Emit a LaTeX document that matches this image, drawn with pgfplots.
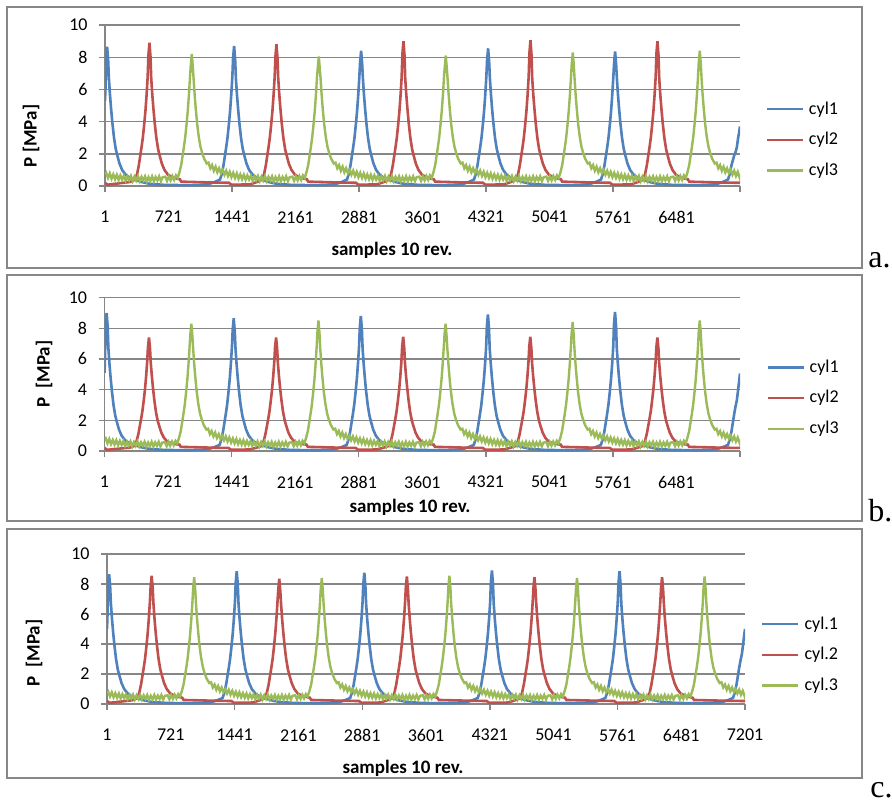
\documentclass[border=0pt]{standalone}
\usepackage{pgfplots}
\pgfplotsset{compat=1.18}
\usepackage{pgfplotstable}
\usepackage{fontspec}
\setmainfont{Carlito}
\newfontfamily\serifabc{Liberation Serif}
\definecolor{cA}{HTML}{4F81BD}
\definecolor{cB}{HTML}{C0504D}
\definecolor{cC}{HTML}{9BBB59}
\definecolor{gridc}{HTML}{868686}
\definecolor{framec}{HTML}{878787}

\pgfplotstableread{
x a b c
1 5.3 5.1 5.0
8 6.3 6.3 6.2
13 7.87 8.19 7.87
25 8.65 9.0 8.65
37 7.79 8.10 7.79
45 6.7 6.7 6.7
57 5.7 5.7 5.7
70 4.8 4.8 4.8
85 3.9 3.9 3.9
103 3.0 3.0 3.0
123 2.3 2.3 2.3
143 1.85 1.85 1.85
165 1.4 1.4 1.4
195 1.0 1.0 1.0
235 0.7 0.7 0.7
285 0.5 0.5 0.5
345 0.38 0.38 0.38
415 0.25 0.25 0.25
505 0.14 0.14 0.14
675 0.07 0.07 0.07
975 0.05 0.05 0.05
1165 0.1 0.1 0.1
1245 0.25 0.25 0.25
1305 0.4 0.4 0.4
1325 0.75 0.75 0.75
1345 1.3 1.3 1.3
1360 1.85 1.85 1.85
1375 2.4 2.4 2.4
1390 3.0 3.0 3.0
1405 3.8 3.8 3.8
1420 4.7 4.7 4.7
1433 5.7 5.7 5.7
1445 6.8 6.8 6.8
1453 7.92 7.87 8.05
1465 8.7 8.65 8.85
1477 7.83 7.79 7.97
1485 6.7 6.7 6.7
1497 5.7 5.7 5.7
1510 4.8 4.8 4.8
1525 3.9 3.9 3.9
1543 3.0 3.0 3.0
1563 2.3 2.3 2.3
1583 1.85 1.85 1.85
1605 1.4 1.4 1.4
1635 1.0 1.0 1.0
1675 0.7 0.7 0.7
1725 0.5 0.5 0.5
1785 0.38 0.38 0.38
1855 0.25 0.25 0.25
1945 0.14 0.14 0.14
2115 0.07 0.07 0.07
2415 0.05 0.05 0.05
2605 0.1 0.1 0.1
2685 0.25 0.25 0.25
2745 0.4 0.4 0.4
2765 0.75 0.75 0.75
2785 1.3 1.3 1.3
2800 1.85 1.85 1.85
2815 2.4 2.4 2.4
2830 3.0 3.0 3.0
2845 3.8 3.8 3.8
2860 4.7 4.7 4.7
2873 5.7 5.7 5.7
2885 6.8 6.8 6.8
2893 7.64 8.01 7.96
2905 8.4 8.8 8.75
2917 7.56 7.92 7.88
2925 6.7 6.7 6.7
2937 5.7 5.7 5.7
2950 4.8 4.8 4.8
2965 3.9 3.9 3.9
2983 3.0 3.0 3.0
3003 2.3 2.3 2.3
3023 1.85 1.85 1.85
3045 1.4 1.4 1.4
3075 1.0 1.0 1.0
3115 0.7 0.7 0.7
3165 0.5 0.5 0.5
3225 0.38 0.38 0.38
3295 0.25 0.25 0.25
3385 0.14 0.14 0.14
3555 0.07 0.07 0.07
3855 0.05 0.05 0.05
4045 0.1 0.1 0.1
4125 0.25 0.25 0.25
4185 0.4 0.4 0.4
4205 0.75 0.75 0.75
4225 1.3 1.3 1.3
4240 1.85 1.85 1.85
4255 2.4 2.4 2.4
4270 3.0 3.0 3.0
4285 3.8 3.8 3.8
4300 4.7 4.7 4.7
4313 5.7 5.7 5.7
4325 6.8 6.8 6.8
4333 7.78 8.10 8.10
4345 8.55 8.9 8.9
4357 7.70 8.01 8.01
4365 6.7 6.7 6.7
4377 5.7 5.7 5.7
4390 4.8 4.8 4.8
4405 3.9 3.9 3.9
4423 3.0 3.0 3.0
4443 2.3 2.3 2.3
4463 1.85 1.85 1.85
4485 1.4 1.4 1.4
4515 1.0 1.0 1.0
4555 0.7 0.7 0.7
4605 0.5 0.5 0.5
4665 0.38 0.38 0.38
4735 0.25 0.25 0.25
4825 0.14 0.14 0.14
4995 0.07 0.07 0.07
5295 0.05 0.05 0.05
5485 0.1 0.1 0.1
5565 0.25 0.25 0.25
5625 0.4 0.4 0.4
5645 0.75 0.75 0.75
5665 1.3 1.3 1.3
5680 1.85 1.85 1.85
5695 2.4 2.4 2.4
5710 3.0 3.0 3.0
5725 3.8 3.8 3.8
5740 4.7 4.7 4.7
5753 5.7 5.7 5.7
5765 6.8 6.8 6.8
5773 7.60 8.24 8.05
5785 8.35 9.05 8.85
5797 7.52 8.15 7.97
5805 6.7 6.7 6.7
5817 5.7 5.7 5.7
5830 4.8 4.8 4.8
5845 3.9 3.9 3.9
5863 3.0 3.0 3.0
5883 2.3 2.3 2.3
5903 1.85 1.85 1.85
5925 1.4 1.4 1.4
5955 1.0 1.0 1.0
5995 0.7 0.7 0.7
6045 0.5 0.5 0.5
6105 0.38 0.38 0.38
6175 0.25 0.25 0.25
6265 0.14 0.14 0.14
6435 0.07 0.07 0.07
6735 0.05 0.05 0.05
6925 0.1 0.1 0.1
7005 0.25 0.25 0.25
7065 0.4 0.4 0.4
7085 0.75 0.75 0.75
7105 1.3 1.3 1.3
7120 1.6 1.85 1.85
7135 1.9 2.4 2.4
7150 2.1 2.9 2.9
7165 2.4 3.3 3.3
7180 3.0 4.0 4.0
7190 3.3 4.5 4.5
7201 3.7 5.05 5.0
}\tabBlue

\pgfplotstableread{
x a b c
1 0.2 0.2 0.2
30 0.08 0.08 0.08
285 0.25 0.22 0.25
345 0.4 0.34 0.4
365 0.75 0.65 0.75
385 1.3 1.12 1.3
400 1.85 1.59 1.85
415 2.4 2.06 2.4
430 3.0 2.58 3.0
445 3.8 3.27 3.8
460 4.7 4.04 4.7
473 5.7 4.90 5.7
485 6.8 5.85 6.8
493 8.10 6.73 7.78
505 8.9 7.4 8.55
517 8.01 6.66 7.70
525 6.7 5.76 6.7
537 5.7 4.90 5.7
550 4.8 4.13 4.8
565 3.9 3.35 3.9
583 3.0 2.58 3.0
603 2.3 1.98 2.3
623 1.85 1.59 1.85
645 1.4 1.20 1.4
675 1.0 0.86 1.0
715 0.7 0.6 0.7
765 0.55 0.5 0.55
825 0.45 0.43 0.45
850 0.42 0.42 0.42
865 0.27 0.27 0.27
1005 0.25 0.25 0.25
1205 0.22 0.22 0.22
1405 0.2 0.2 0.2
1435 0.08 0.08 0.08
1645 0.1 0.1 0.1
1725 0.25 0.22 0.25
1785 0.4 0.34 0.4
1805 0.75 0.65 0.75
1825 1.3 1.12 1.3
1840 1.85 1.59 1.85
1855 2.4 2.06 2.4
1870 3.0 2.58 3.0
1885 3.8 3.27 3.8
1900 4.7 4.04 4.7
1913 5.7 4.90 5.7
1925 6.8 5.85 6.8
1933 8.01 6.73 7.60
1945 8.8 7.4 8.35
1957 7.92 6.66 7.52
1965 6.7 5.76 6.7
1977 5.7 4.90 5.7
1990 4.8 4.13 4.8
2005 3.9 3.35 3.9
2023 3.0 2.58 3.0
2043 2.3 1.98 2.3
2063 1.85 1.59 1.85
2085 1.4 1.20 1.4
2115 1.0 0.86 1.0
2155 0.7 0.6 0.7
2205 0.55 0.5 0.55
2265 0.45 0.43 0.45
2290 0.42 0.42 0.42
2305 0.27 0.27 0.27
2445 0.25 0.25 0.25
2645 0.22 0.22 0.22
2845 0.2 0.2 0.2
2875 0.08 0.08 0.08
3085 0.1 0.1 0.1
3165 0.25 0.22 0.25
3225 0.4 0.34 0.4
3245 0.75 0.65 0.75
3265 1.3 1.12 1.3
3280 1.85 1.59 1.85
3295 2.4 2.06 2.4
3310 3.0 2.58 3.0
3325 3.8 3.27 3.8
3340 4.7 4.04 4.7
3353 5.7 4.90 5.7
3365 6.8 5.85 6.8
3373 8.19 6.78 7.74
3385 9.0 7.45 8.5
3397 8.10 6.71 7.65
3405 6.7 5.76 6.7
3417 5.7 4.90 5.7
3430 4.8 4.13 4.8
3445 3.9 3.35 3.9
3463 3.0 2.58 3.0
3483 2.3 1.98 2.3
3503 1.85 1.59 1.85
3525 1.4 1.20 1.4
3555 1.0 0.86 1.0
3595 0.7 0.6 0.7
3645 0.55 0.5 0.55
3705 0.45 0.43 0.45
3730 0.42 0.42 0.42
3745 0.27 0.27 0.27
3885 0.25 0.25 0.25
4085 0.22 0.22 0.22
4285 0.2 0.2 0.2
4315 0.08 0.08 0.08
4525 0.1 0.1 0.1
4605 0.25 0.22 0.25
4665 0.4 0.34 0.4
4685 0.75 0.65 0.75
4705 1.3 1.12 1.3
4720 1.85 1.59 1.85
4735 2.4 2.06 2.4
4750 3.0 2.58 3.0
4765 3.8 3.27 3.8
4780 4.7 4.04 4.7
4793 5.7 4.90 5.7
4805 6.8 5.85 6.8
4813 8.24 6.78 7.69
4825 9.05 7.45 8.45
4837 8.15 6.71 7.61
4845 6.7 5.76 6.7
4857 5.7 4.90 5.7
4870 4.8 4.13 4.8
4885 3.9 3.35 3.9
4903 3.0 2.58 3.0
4923 2.3 1.98 2.3
4943 1.85 1.59 1.85
4965 1.4 1.20 1.4
4995 1.0 0.86 1.0
5035 0.7 0.6 0.7
5085 0.55 0.5 0.55
5145 0.45 0.43 0.45
5170 0.42 0.42 0.42
5185 0.27 0.27 0.27
5325 0.25 0.25 0.25
5525 0.22 0.22 0.22
5725 0.2 0.2 0.2
5755 0.08 0.08 0.08
5965 0.1 0.1 0.1
6045 0.25 0.22 0.25
6105 0.4 0.34 0.4
6125 0.75 0.65 0.75
6145 1.3 1.12 1.3
6160 1.85 1.59 1.85
6175 2.4 2.06 2.4
6190 3.0 2.58 3.0
6205 3.8 3.27 3.8
6220 4.7 4.04 4.7
6233 5.7 4.90 5.7
6245 6.8 5.85 6.8
6253 8.19 6.73 7.69
6265 9.0 7.4 8.45
6277 8.10 6.66 7.61
6285 6.7 5.76 6.7
6297 5.7 4.90 5.7
6310 4.8 4.13 4.8
6325 3.9 3.35 3.9
6343 3.0 2.58 3.0
6363 2.3 1.98 2.3
6383 1.85 1.59 1.85
6405 1.4 1.20 1.4
6435 1.0 0.86 1.0
6475 0.7 0.6 0.7
6525 0.55 0.5 0.55
6585 0.45 0.43 0.45
6610 0.42 0.42 0.42
6625 0.27 0.27 0.27
6765 0.25 0.25 0.25
6965 0.22 0.22 0.22
7201 0.2 0.2 0.2
}\tabRed

\pgfplotstableread{
x a b c
1 0.7 0.7 0.7
15 0.82 0.82 0.82
35 0.5 0.5 0.5
55 0.78 0.78 0.78
75 0.45 0.45 0.45
95 0.72 0.72 0.72
115 0.42 0.42 0.42
135 0.7 0.7 0.7
155 0.38 0.38 0.38
175 0.66 0.66 0.66
195 0.4 0.4 0.4
215 0.64 0.64 0.64
235 0.33 0.33 0.33
255 0.6 0.6 0.6
275 0.36 0.36 0.36
295 0.62 0.62 0.62
315 0.3 0.3 0.3
335 0.58 0.58 0.58
355 0.34 0.34 0.34
375 0.62 0.62 0.62
395 0.3 0.3 0.3
415 0.57 0.57 0.57
435 0.35 0.35 0.35
455 0.6 0.6 0.6
475 0.28 0.28 0.28
495 0.55 0.55 0.55
515 0.32 0.32 0.32
535 0.6 0.6 0.6
555 0.3 0.3 0.3
575 0.56 0.56 0.56
595 0.34 0.34 0.34
615 0.6 0.6 0.6
635 0.3 0.3 0.3
655 0.55 0.55 0.55
685 0.58 0.58 0.58
705 0.32 0.32 0.32
725 0.6 0.6 0.6
745 0.35 0.35 0.35
765 0.62 0.62 0.62
785 0.38 0.38 0.38
805 0.66 0.66 0.66
825 0.5 0.5 0.5
845 0.85 0.85 0.85
865 1.3 1.3 1.3
880 1.85 1.85 1.85
895 2.4 2.4 2.4
910 3.0 3.0 3.0
925 3.8 3.8 3.8
940 4.7 4.7 4.7
953 5.7 5.7 5.7
965 6.8 6.8 6.8
973 7.46 7.55 7.69
985 8.2 8.3 8.45
997 7.38 7.47 7.61
1005 6.7 6.7 6.7
1017 5.7 5.7 5.7
1030 4.8 4.8 4.8
1045 3.9 3.9 3.9
1063 3.1 3.1 3.1
1083 2.45 2.45 2.45
1103 2.05 2.05 2.05
1125 1.7 1.7 1.7
1155 1.4 1.4 1.4
1175 1.45 1.45 1.45
1195 1.1 1.1 1.1
1215 1.3 1.3 1.3
1235 0.95 0.95 0.95
1255 1.2 1.2 1.2
1275 0.85 0.85 0.85
1295 1.1 1.1 1.1
1315 0.8 0.8 0.8
1335 1.0 1.0 1.0
1355 0.7 0.7 0.7
1375 0.95 0.95 0.95
1395 0.62 0.62 0.62
1415 0.88 0.88 0.88
1435 0.55 0.55 0.55
1455 0.82 0.82 0.82
1475 0.5 0.5 0.5
1495 0.78 0.78 0.78
1515 0.45 0.45 0.45
1535 0.72 0.72 0.72
1555 0.42 0.42 0.42
1575 0.7 0.7 0.7
1595 0.38 0.38 0.38
1615 0.66 0.66 0.66
1635 0.4 0.4 0.4
1655 0.64 0.64 0.64
1675 0.33 0.33 0.33
1695 0.6 0.6 0.6
1715 0.36 0.36 0.36
1735 0.62 0.62 0.62
1755 0.3 0.3 0.3
1775 0.58 0.58 0.58
1795 0.34 0.34 0.34
1815 0.62 0.62 0.62
1835 0.3 0.3 0.3
1855 0.57 0.57 0.57
1875 0.35 0.35 0.35
1895 0.6 0.6 0.6
1915 0.28 0.28 0.28
1935 0.55 0.55 0.55
1955 0.32 0.32 0.32
1975 0.6 0.6 0.6
1995 0.3 0.3 0.3
2015 0.56 0.56 0.56
2035 0.34 0.34 0.34
2055 0.6 0.6 0.6
2075 0.3 0.3 0.3
2095 0.55 0.55 0.55
2125 0.58 0.58 0.58
2145 0.32 0.32 0.32
2165 0.6 0.6 0.6
2185 0.35 0.35 0.35
2205 0.62 0.62 0.62
2225 0.38 0.38 0.38
2245 0.66 0.66 0.66
2265 0.5 0.5 0.5
2285 0.85 0.85 0.85
2305 1.3 1.3 1.3
2320 1.85 1.85 1.85
2335 2.4 2.4 2.4
2350 3.0 3.0 3.0
2365 3.8 3.8 3.8
2380 4.7 4.7 4.7
2393 5.7 5.7 5.7
2405 6.8 6.8 6.8
2413 7.33 7.74 7.64
2425 8.05 8.5 8.4
2437 7.25 7.65 7.56
2445 6.7 6.7 6.7
2457 5.7 5.7 5.7
2470 4.8 4.8 4.8
2485 3.9 3.9 3.9
2503 3.1 3.1 3.1
2523 2.45 2.45 2.45
2543 2.05 2.05 2.05
2565 1.7 1.7 1.7
2595 1.4 1.4 1.4
2615 1.45 1.45 1.45
2635 1.1 1.1 1.1
2655 1.3 1.3 1.3
2675 0.95 0.95 0.95
2695 1.2 1.2 1.2
2715 0.85 0.85 0.85
2735 1.1 1.1 1.1
2755 0.8 0.8 0.8
2775 1.0 1.0 1.0
2795 0.7 0.7 0.7
2815 0.95 0.95 0.95
2835 0.62 0.62 0.62
2855 0.88 0.88 0.88
2875 0.55 0.55 0.55
2895 0.82 0.82 0.82
2915 0.5 0.5 0.5
2935 0.78 0.78 0.78
2955 0.45 0.45 0.45
2975 0.72 0.72 0.72
2995 0.42 0.42 0.42
3015 0.7 0.7 0.7
3035 0.38 0.38 0.38
3055 0.66 0.66 0.66
3075 0.4 0.4 0.4
3095 0.64 0.64 0.64
3115 0.33 0.33 0.33
3135 0.6 0.6 0.6
3155 0.36 0.36 0.36
3175 0.62 0.62 0.62
3195 0.3 0.3 0.3
3215 0.58 0.58 0.58
3235 0.34 0.34 0.34
3255 0.62 0.62 0.62
3275 0.3 0.3 0.3
3295 0.57 0.57 0.57
3315 0.35 0.35 0.35
3335 0.6 0.6 0.6
3355 0.28 0.28 0.28
3375 0.55 0.55 0.55
3395 0.32 0.32 0.32
3415 0.6 0.6 0.6
3435 0.3 0.3 0.3
3455 0.56 0.56 0.56
3475 0.34 0.34 0.34
3495 0.6 0.6 0.6
3515 0.3 0.3 0.3
3535 0.55 0.55 0.55
3565 0.58 0.58 0.58
3585 0.32 0.32 0.32
3605 0.6 0.6 0.6
3625 0.35 0.35 0.35
3645 0.62 0.62 0.62
3665 0.38 0.38 0.38
3685 0.66 0.66 0.66
3705 0.5 0.5 0.5
3725 0.85 0.85 0.85
3745 1.3 1.3 1.3
3760 1.85 1.85 1.85
3775 2.4 2.4 2.4
3790 3.0 3.0 3.0
3805 3.8 3.8 3.8
3820 4.7 4.7 4.7
3833 5.7 5.7 5.7
3845 6.8 6.8 6.8
3853 7.37 7.55 7.78
3865 8.1 8.3 8.55
3877 7.29 7.47 7.70
3885 6.7 6.7 6.7
3897 5.7 5.7 5.7
3910 4.8 4.8 4.8
3925 3.9 3.9 3.9
3943 3.1 3.1 3.1
3963 2.45 2.45 2.45
3983 2.05 2.05 2.05
4005 1.7 1.7 1.7
4035 1.4 1.4 1.4
4055 1.45 1.45 1.45
4075 1.1 1.1 1.1
4095 1.3 1.3 1.3
4115 0.95 0.95 0.95
4135 1.2 1.2 1.2
4155 0.85 0.85 0.85
4175 1.1 1.1 1.1
4195 0.8 0.8 0.8
4215 1.0 1.0 1.0
4235 0.7 0.7 0.7
4255 0.95 0.95 0.95
4275 0.62 0.62 0.62
4295 0.88 0.88 0.88
4315 0.55 0.55 0.55
4335 0.82 0.82 0.82
4355 0.5 0.5 0.5
4375 0.78 0.78 0.78
4395 0.45 0.45 0.45
4415 0.72 0.72 0.72
4435 0.42 0.42 0.42
4455 0.7 0.7 0.7
4475 0.38 0.38 0.38
4495 0.66 0.66 0.66
4515 0.4 0.4 0.4
4535 0.64 0.64 0.64
4555 0.33 0.33 0.33
4575 0.6 0.6 0.6
4595 0.36 0.36 0.36
4615 0.62 0.62 0.62
4635 0.3 0.3 0.3
4655 0.58 0.58 0.58
4675 0.34 0.34 0.34
4695 0.62 0.62 0.62
4715 0.3 0.3 0.3
4735 0.57 0.57 0.57
4755 0.35 0.35 0.35
4775 0.6 0.6 0.6
4795 0.28 0.28 0.28
4815 0.55 0.55 0.55
4835 0.32 0.32 0.32
4855 0.6 0.6 0.6
4875 0.3 0.3 0.3
4895 0.56 0.56 0.56
4915 0.34 0.34 0.34
4935 0.6 0.6 0.6
4955 0.3 0.3 0.3
4975 0.55 0.55 0.55
5005 0.58 0.58 0.58
5025 0.32 0.32 0.32
5045 0.6 0.6 0.6
5065 0.35 0.35 0.35
5085 0.62 0.62 0.62
5105 0.38 0.38 0.38
5125 0.66 0.66 0.66
5145 0.5 0.5 0.5
5165 0.85 0.85 0.85
5185 1.3 1.3 1.3
5200 1.85 1.85 1.85
5215 2.4 2.4 2.4
5230 3.0 3.0 3.0
5245 3.8 3.8 3.8
5260 4.7 4.7 4.7
5273 5.7 5.7 5.7
5285 6.8 6.8 6.8
5293 7.55 7.64 7.64
5305 8.3 8.4 8.4
5317 7.47 7.56 7.56
5325 6.7 6.7 6.7
5337 5.7 5.7 5.7
5350 4.8 4.8 4.8
5365 3.9 3.9 3.9
5383 3.1 3.1 3.1
5403 2.45 2.45 2.45
5423 2.05 2.05 2.05
5445 1.7 1.7 1.7
5475 1.4 1.4 1.4
5495 1.45 1.45 1.45
5515 1.1 1.1 1.1
5535 1.3 1.3 1.3
5555 0.95 0.95 0.95
5575 1.2 1.2 1.2
5595 0.85 0.85 0.85
5615 1.1 1.1 1.1
5635 0.8 0.8 0.8
5655 1.0 1.0 1.0
5675 0.7 0.7 0.7
5695 0.95 0.95 0.95
5715 0.62 0.62 0.62
5735 0.88 0.88 0.88
5755 0.55 0.55 0.55
5775 0.82 0.82 0.82
5795 0.5 0.5 0.5
5815 0.78 0.78 0.78
5835 0.45 0.45 0.45
5855 0.72 0.72 0.72
5875 0.42 0.42 0.42
5895 0.7 0.7 0.7
5915 0.38 0.38 0.38
5935 0.66 0.66 0.66
5955 0.4 0.4 0.4
5975 0.64 0.64 0.64
5995 0.33 0.33 0.33
6015 0.6 0.6 0.6
6035 0.36 0.36 0.36
6055 0.62 0.62 0.62
6075 0.3 0.3 0.3
6095 0.58 0.58 0.58
6115 0.34 0.34 0.34
6135 0.62 0.62 0.62
6155 0.3 0.3 0.3
6175 0.57 0.57 0.57
6195 0.35 0.35 0.35
6215 0.6 0.6 0.6
6235 0.28 0.28 0.28
6255 0.55 0.55 0.55
6275 0.32 0.32 0.32
6295 0.6 0.6 0.6
6315 0.3 0.3 0.3
6335 0.56 0.56 0.56
6355 0.34 0.34 0.34
6375 0.6 0.6 0.6
6395 0.3 0.3 0.3
6415 0.55 0.55 0.55
6445 0.58 0.58 0.58
6465 0.32 0.32 0.32
6485 0.6 0.6 0.6
6505 0.35 0.35 0.35
6525 0.62 0.62 0.62
6545 0.38 0.38 0.38
6565 0.66 0.66 0.66
6585 0.5 0.5 0.5
6605 0.85 0.85 0.85
6625 1.3 1.3 1.3
6640 1.85 1.85 1.85
6655 2.4 2.4 2.4
6670 3.0 3.0 3.0
6685 3.8 3.8 3.8
6700 4.7 4.7 4.7
6713 5.7 5.7 5.7
6725 6.8 6.8 6.8
6733 7.64 7.74 7.74
6745 8.4 8.5 8.5
6757 7.56 7.65 7.65
6765 6.7 6.7 6.7
6777 5.7 5.7 5.7
6790 4.8 4.8 4.8
6805 3.9 3.9 3.9
6823 3.1 3.1 3.1
6843 2.45 2.45 2.45
6863 2.05 2.05 2.05
6885 1.7 1.7 1.7
6915 1.4 1.4 1.4
6935 1.45 1.45 1.45
6955 1.1 1.1 1.1
6975 1.3 1.3 1.3
6995 0.95 0.95 0.95
7015 1.2 1.2 1.2
7035 0.85 0.85 0.85
7055 1.1 1.1 1.1
7075 0.8 0.8 0.8
7095 1.0 1.0 1.0
7115 0.7 0.7 0.7
7135 0.95 0.95 0.95
7155 0.62 0.62 0.62
7175 0.88 0.88 0.88
7195 0.55 0.55 0.55
7201 0.75 0.75 0.75
}\tabGreen

\pgfplotsset{
  excel/.style={
    scale only axis,
    xmin=1, xmax=7201, ymin=0, ymax=10,
    axis x line*=bottom, axis y line*=left,
    axis line style={gridc, line width=0.7pt, -},
    ytick={0,2,4,6,8,10},
    yticklabels={0,2,4,6,8,10},
    ymajorgrids,
    major grid style={gridc, line width=0.7pt},
    tick style={gridc, line width=0.7pt},
    major tick length=3pt,
    tick align=outside,
    ticklabel style={font=\fontsize{9}{10}\selectfont, text=black},
    yticklabel style={anchor=east, inner sep=0pt, xshift=-5.5pt},
    xticklabel style={anchor=center, inner sep=0pt, yshift=-12.5pt},
    extra x ticks={721,2161,3601,5041,6481},
    extra x tick labels={721,2161,3601,5041,6481},
    extra x tick style={major tick length=0pt, grid=none, xticklabel style={yshift=-3pt}},
    legend cell align=left,
    legend style={draw=none, fill=none, inner sep=0pt, anchor=west,
      font=\fontsize{9}{10}\selectfont, row sep=6.5pt, column sep=2pt,
      nodes={inner sep=0.5pt, text height=6.3pt, text depth=1.5pt}},
    legend image code/.code={\draw[#1, line width=1.1pt] (0pt,0pt) -- (18pt,0pt);},
    clip=true,
  },
  la/.style={excel, xtick={1,1441,2881,4321,5761,7201}, xticklabels={1,1441,2881,4321,5761,{}}},
  lc/.style={excel, xtick={1,1441,2881,4321,5761,7201}, xticklabels={1,1441,2881,4321,5761,7201}},
}

\begin{document}
\begin{tikzpicture}
\useasboundingbox (0,0) rectangle (446pt,-402.5pt);
\fill[white] (0,0) rectangle (446pt,-402.5pt);
\draw[framec, line width=0.8pt] (3.5pt,-3.5pt) rectangle (431pt,-134pt);
\draw[framec, line width=0.8pt] (3.5pt,-137.5pt) rectangle (431pt,-260.5pt);
\draw[framec, line width=0.8pt] (3.5pt,-264.5pt) rectangle (431pt,-389pt);

% panel a
\begin{axis}[la, at={(52.5pt,-93pt)}, anchor=south west, width=317.5pt, height=80.5pt,
  legend style={at={(1.04,0.286)}}]
\addplot[cA, line width=1.3pt] table[x=x, y=a] {\tabBlue};
\addplot[cB, line width=1.3pt] table[x=x, y=a] {\tabRed};
\addplot[cC, line width=1.2pt] table[x=x, y=a] {\tabGreen};
\legend{cyl1,cyl2,cyl3}
\end{axis}

% panel b
\begin{axis}[la, at={(52.25pt,-225.5pt)}, anchor=south west, width=317.75pt, height=76.75pt,
  legend style={at={(1.041,0.345)}}]
\addplot[cA, line width=1.3pt] table[x=x, y=b] {\tabBlue};
\addplot[cB, line width=1.3pt] table[x=x, y=b] {\tabRed};
\addplot[cC, line width=1.2pt] table[x=x, y=b] {\tabGreen};
\legend{cyl1,cyl2,cyl3}
\end{axis}

% panel c
\begin{axis}[lc, at={(53.5pt,-352pt)}, anchor=south west, width=319pt, height=75pt,
  legend style={at={(1.025,0.327)}}]
\addplot[cA, line width=1.3pt] table[x=x, y=c] {\tabBlue};
\addplot[cB, line width=1.3pt] table[x=x, y=c] {\tabRed};
\addplot[cC, line width=1.2pt] table[x=x, y=c] {\tabGreen};
\legend{cyl.1,cyl.2,cyl.3}
\end{axis}

\node[font=\bfseries\fontsize{9.5}{11}\selectfont, rotate=90] at (15.5pt,-68pt) {P [MPa]};
\node[font=\bfseries\fontsize{9.5}{11}\selectfont, rotate=90] at (22pt,-187pt) {P\ \ [MPa]};
\node[font=\bfseries\fontsize{9.5}{11}\selectfont, rotate=90] at (17pt,-326.5pt) {P\ \ [MPa]};
\node[font=\bfseries\fontsize{9.5}{11}\selectfont] at (196pt,-125pt) {samples 10 rev.};
\node[font=\bfseries\fontsize{9.5}{11}\selectfont] at (205pt,-253.5pt) {samples 10 rev.};
\node[font=\bfseries\fontsize{9.5}{11}\selectfont] at (201.5pt,-384pt) {samples 10 rev.};

\node[anchor=base west, inner sep=0pt, font=\serifabc\fontsize{16}{16}\selectfont] at (434pt,-133.5pt) {a.};
\node[anchor=base west, inner sep=0pt, font=\serifabc\fontsize{16}{16}\selectfont] at (434pt,-260.5pt) {b.};
\node[anchor=base west, inner sep=0pt, font=\serifabc\fontsize{16}{16}\selectfont] at (435pt,-398.5pt) {c.};
\end{tikzpicture}
\end{document}
